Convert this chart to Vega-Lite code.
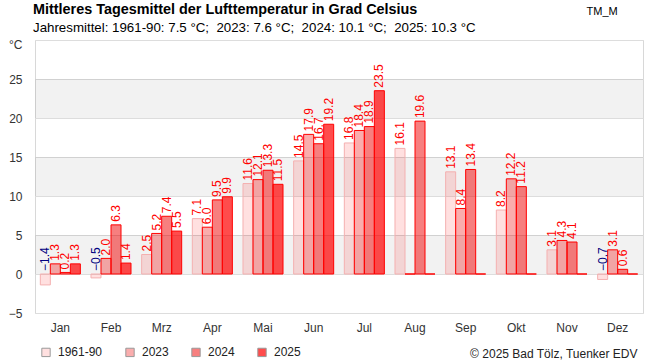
{
  "$schema": "https://vega.github.io/schema/vega-lite/v6.json",
  "width": 608,
  "height": 273,
  "autosize": {"type": "none"},
  "padding": {"left": 35, "top": 40, "right": 7, "bottom": 47},
  "background": "white",
  "config": {
    "font": "Liberation Sans",
    "view": {"stroke": "#d8d8d8", "strokeWidth": 1},
    "axis": {"labelOverlap": false},
    "axisY": {"labelOverlap": false, "labelBound": false, "labelFlush": false},
    "axisQuantitative": {"labelOverlap": false}
  },
  "title": {
    "text": "Mittleres Tagesmittel der Lufttemperatur in Grad Celsius",
    "subtitle": "Jahresmittel: 1961-90: 7.5 °C;\u00a0 2023: 7.6 °C;\u00a0 2024: 10.1 °C;\u00a0 2025: 10.3 °C",
    "anchor": "start",
    "frame": "group",
    "dx": -2,
    "dy": 36,
    "offset": 6,
    "font": "Liberation Sans",
    "fontSize": 14.4,
    "fontWeight": "bold",
    "color": "#000000",
    "subtitleFont": "Liberation Sans",
    "subtitleFontSize": 13.3,
    "subtitleColor": "#000000",
    "subtitlePadding": 3
  },
  "datasets": {
    "temps": [
      {"month": "Jan", "year": "1961-90", "t": -1.4},
      {"month": "Jan", "year": "2023", "t": 1.3},
      {"month": "Jan", "year": "2024", "t": 0.2},
      {"month": "Jan", "year": "2025", "t": 1.3},
      {"month": "Feb", "year": "1961-90", "t": -0.5},
      {"month": "Feb", "year": "2023", "t": 2.0},
      {"month": "Feb", "year": "2024", "t": 6.3},
      {"month": "Feb", "year": "2025", "t": 1.4},
      {"month": "Mrz", "year": "1961-90", "t": 2.5},
      {"month": "Mrz", "year": "2023", "t": 5.2},
      {"month": "Mrz", "year": "2024", "t": 7.4},
      {"month": "Mrz", "year": "2025", "t": 5.5},
      {"month": "Apr", "year": "1961-90", "t": 7.1},
      {"month": "Apr", "year": "2023", "t": 6.0},
      {"month": "Apr", "year": "2024", "t": 9.5},
      {"month": "Apr", "year": "2025", "t": 9.9},
      {"month": "Mai", "year": "1961-90", "t": 11.6},
      {"month": "Mai", "year": "2023", "t": 12.1},
      {"month": "Mai", "year": "2024", "t": 13.3},
      {"month": "Mai", "year": "2025", "t": 11.5},
      {"month": "Jun", "year": "1961-90", "t": 14.5},
      {"month": "Jun", "year": "2023", "t": 17.9},
      {"month": "Jun", "year": "2024", "t": 16.7},
      {"month": "Jun", "year": "2025", "t": 19.2},
      {"month": "Jul", "year": "1961-90", "t": 16.8},
      {"month": "Jul", "year": "2023", "t": 18.4},
      {"month": "Jul", "year": "2024", "t": 18.9},
      {"month": "Jul", "year": "2025", "t": 23.5},
      {"month": "Aug", "year": "1961-90", "t": 16.1},
      {"month": "Aug", "year": "2023", "t": null},
      {"month": "Aug", "year": "2024", "t": 19.6},
      {"month": "Aug", "year": "2025", "t": null},
      {"month": "Sep", "year": "1961-90", "t": 13.1},
      {"month": "Sep", "year": "2023", "t": 8.4},
      {"month": "Sep", "year": "2024", "t": 13.4},
      {"month": "Sep", "year": "2025", "t": null},
      {"month": "Okt", "year": "1961-90", "t": 8.2},
      {"month": "Okt", "year": "2023", "t": 12.2},
      {"month": "Okt", "year": "2024", "t": 11.2},
      {"month": "Okt", "year": "2025", "t": null},
      {"month": "Nov", "year": "1961-90", "t": 3.1},
      {"month": "Nov", "year": "2023", "t": 4.3},
      {"month": "Nov", "year": "2024", "t": 4.1},
      {"month": "Nov", "year": "2025", "t": null},
      {"month": "Dez", "year": "1961-90", "t": -0.7},
      {"month": "Dez", "year": "2023", "t": 3.1},
      {"month": "Dez", "year": "2024", "t": 0.6},
      {"month": "Dez", "year": "2025", "t": null}
    ],
    "bands": [
      {"lo": 0, "hi": 5},
      {"lo": 10, "hi": 15},
      {"lo": 20, "hi": 25}
    ]
  },
  "layer": [
    {
      "data": {"name": "bands"},
      "mark": {"type": "rect", "fill": "#000000", "fillOpacity": 0.05, "strokeWidth": 0},
      "encoding": {
        "y": {"field": "lo", "type": "quantitative", "scale": {"domain": [-5, 30], "nice": false, "zero": false},
          "axis": {
            "values": [-5, 0, 5, 10, 15, 20, 25, 30],
            "labelExpr": "datum.value == 30 ? '°C' : datum.label",
            "labelOverlap": false,
            "labelOffset": {"condition": {"test": "datum.value == 30", "value": 4}, "value": 0},
            "ticks": false, "domain": false,
            "gridColor": "#dddddd", "gridWidth": 1,
            "labelFont": "Liberation Sans", "labelFontSize": 12, "labelColor": "#333333",
            "labelPadding": 13,
            "title": "TM_M", "titleAngle": 0, "titleX": 551, "titleY": -26,
            "titleAlign": "left", "titleBaseline": "alphabetic",
            "titleFont": "Liberation Sans", "titleFontSize": 11, "titleFontWeight": "normal", "titleColor": "#000000"
          }},
        "y2": {"field": "hi"}
      }
    },
    {
      "data": {"name": "temps"},
      "mark": {"type": "bar", "strokeWidth": 1, "invalid": "show"},
      "encoding": {
        "x": {"field": "month", "type": "nominal", "sort": null,
          "scale": {"paddingInner": 0.21, "paddingOuter": 0.105},
          "axis": {
            "labelAngle": 0, "ticks": false, "domain": false, "grid": false,
            "labelFont": "Liberation Sans", "labelFontSize": 12, "labelColor": "#333333",
            "labelPadding": 9,
            "title": "© 2025 Bad Tölz, Tuenker EDV", "titleX": 602, "titleY": 44,
            "titleAlign": "right", "titleAnchor": null, "titleBaseline": "alphabetic",
            "titleFont": "Liberation Sans", "titleFontSize": 12, "titleFontWeight": "normal", "titleColor": "#222222"
          }},
        "xOffset": {"field": "year", "type": "nominal", "scale": {"paddingInner": 0, "paddingOuter": 0}},
        "y": {"field": "t", "type": "quantitative", "axis": {
            "values": [-5, 0, 5, 10, 15, 20, 25, 30],
            "labelExpr": "datum.value == 30 ? '°C' : datum.label",
            "labelOverlap": false,
            "labelOffset": {"condition": {"test": "datum.value == 30", "value": 4}, "value": 0}}},
        "y2": {"datum": 0},
        "fill": {"field": "year", "type": "nominal",
          "scale": {"domain": ["1961-90", "2023", "2024", "2025"],
            "range": ["rgba(255,0,0,0.12)", "rgba(240,0,0,0.32)", "rgba(240,0,0,0.5)", "rgba(255,0,0,0.7)"]},
          "legend": {
            "title": null, "orient": "none", "direction": "horizontal",
            "legendX": 5, "legendY": 306,
            "symbolType": "square", "symbolSize": 70, "symbolOpacity": 1,
            "symbolStrokeColor": "#999999", "symbolStrokeWidth": 1,
            "labelFont": "Liberation Sans", "labelFontSize": 12, "labelColor": "#222222",
            "labelOffset": 6, "columnPadding": 20, "padding": 0
          }},
        "stroke": {"condition": {"test": "datum.year == '1961-90'", "value": "#f4b0b0"}, "value": "#ff0000"}
      }
    },
    {
      "data": {"name": "temps"},
      "transform": [{"filter": "datum.t != null && datum.t >= 0"}],
      "mark": {"type": "text", "angle": 270, "align": "left", "baseline": "middle", "dx": 3,
        "font": "Liberation Sans", "fontSize": 12, "color": "#ff0000"},
      "encoding": {
        "x": {"field": "month", "type": "nominal", "sort": null},
        "xOffset": {"field": "year", "type": "nominal"},
        "y": {"field": "t", "type": "quantitative", "axis": {
            "values": [-5, 0, 5, 10, 15, 20, 25, 30],
            "labelExpr": "datum.value == 30 ? '°C' : datum.label",
            "labelOverlap": false,
            "labelOffset": {"condition": {"test": "datum.value == 30", "value": 4}, "value": 0}}},
        "text": {"field": "t", "type": "quantitative", "format": ".1f"}
      }
    },
    {
      "data": {"name": "temps"},
      "transform": [{"filter": "datum.t != null && datum.t < 0"}],
      "mark": {"type": "text", "angle": 270, "align": "left", "baseline": "middle", "dx": 3,
        "font": "Liberation Sans", "fontSize": 12, "color": "#000080"},
      "encoding": {
        "x": {"field": "month", "type": "nominal", "sort": null},
        "xOffset": {"field": "year", "type": "nominal"},
        "y": {"datum": 0, "axis": {
            "values": [-5, 0, 5, 10, 15, 20, 25, 30],
            "labelExpr": "datum.value == 30 ? '°C' : datum.label",
            "labelOverlap": false,
            "labelOffset": {"condition": {"test": "datum.value == 30", "value": 4}, "value": 0}}},
        "text": {"field": "t", "type": "quantitative", "format": ".1f"}
      }
    }
  ]
}
